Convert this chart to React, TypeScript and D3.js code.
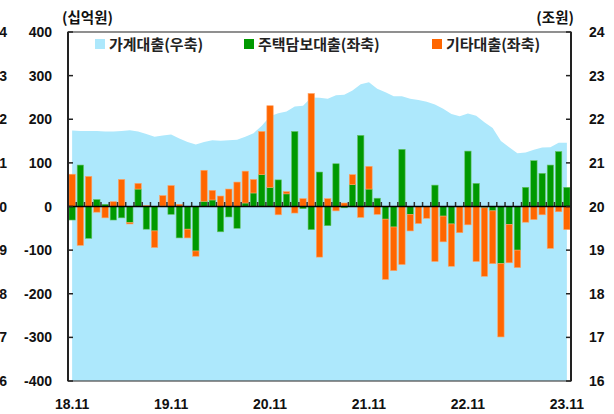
import React, { useEffect, useRef } from 'react'
import * as d3 from 'd3'

// 2018.11 ~ 2023.11 월별
const tickLabels = ['18.11', '19.11', '20.11', '21.11', '22.11', '23.11']
const monthCount = 61

// 주택담보대출 (십억원, 좌축)
const housing = [
  -31, 95, -73, 16, 5, -31, -26, -37, 40, -52, -56, 1, -18, -72, -52, -102, 12, 15, -58, -24, -50, 8, 31, 73,
  44, 61, 29, 172, -5, -53, 79, -44, 98, -3, 50, 163, 40, 19, -29, -47, 131, -18, 0, 0, 49, -22, -40, 0, 127,
  53, -3, -10, -131, -41, -100, 44, 105, 76, 95, 126, 44,
]

// 기타대출 (십억원, 좌축)
const other = [
  74, -89, 69, -13, -26, 11, 62, -3, 13, 2, -38, 24, 48, 5, -20, -12, 71, 22, 24, 40, 56, 73, 31, 99, 187,
  -19, 5, -15, 18, 259, -116, 18, -10, 8, 23, -25, 52, -18, -138, -100, -133, -38, -39, -27, -126, -59, -97,
  -60, -42, -126, -157, -121, -168, -88, -40, -36, -30, -19, -96, -12, -53,
]

// 가계대출 잔액 (조원, 우축)
const household = [
  21.74, 21.73, 21.73, 21.73, 21.72, 21.72, 21.73, 21.75, 21.72, 21.66, 21.6, 21.63, 21.65, 21.56, 21.48,
  21.42, 21.48, 21.52, 21.51, 21.52, 21.53, 21.6, 21.68, 21.85, 22.07, 22.14, 22.18, 22.29, 22.31, 22.5,
  22.49, 22.47, 22.55, 22.56, 22.66, 22.8, 22.85, 22.7, 22.62, 22.53, 22.53, 22.47, 22.44, 22.4, 22.34,
  22.24, 22.12, 22.07, 22.13, 22.08, 21.93, 21.8, 21.5, 21.36, 21.22, 21.24, 21.3, 21.35, 21.36, 21.46, 21.46,
]

const leftTicks = [-400, -300, -200, -100, 0, 100, 200, 300, 400]
const rightTicks = [16, 17, 18, 19, 20, 21, 22, 23, 24]

const legendItems = [
  { label: '가계대출(우축)', color: '#ade8fc' },
  { label: '주택담보대출(좌축)', color: '#009900' },
  { label: '기타대출(좌축)', color: '#ff6600' },
]

const App = () => {
  const svgRef = useRef<SVGSVGElement>(null)
  const width = 614
  const height = 414
  const plot = { left: 68, right: 571, top: 32, bottom: 381 }

  useEffect(() => {
    const svg = d3.select(svgRef.current)
    svg.selectAll('*').remove()

    const idx = d3.range(monthCount)
    const x = d3
      .scaleBand<number>()
      .domain(idx)
      .range([plot.left, plot.right])
      .paddingInner(0.23)
      .paddingOuter(0.115)
    const cx = (i: number) => (x(i) as number) + x.bandwidth() / 2
    const y = d3.scaleLinear().domain([-400, 400]).range([plot.bottom, plot.top])
    const yR = d3.scaleLinear().domain([16, 24]).range([plot.bottom, plot.top])

    const numFont = "'Liberation Sans', Arial, sans-serif"
    const krFont = "'Noto Sans CJK KR', sans-serif"

    // 가계대출 area
    const area = d3
      .area<number>()
      .x((d, i) => cx(i))
      .y0(yR(16))
      .y1((d) => yR(d))
    svg.append('path').datum(household).attr('d', area).attr('fill', '#ade8fc')

    // stacked bars
    const rows = idx.map((i) => ({ housing: housing[i], other: other[i] }))
    const series = d3
      .stack<any>()
      .keys(['housing', 'other'])
      .offset(d3.stackOffsetDiverging)(rows)
    const colors: Record<string, string> = { housing: '#009900', other: '#ff6600' }
    const strokes: Record<string, string> = { housing: '#66c266', other: '#ffa366' }

    series.forEach((s) => {
      svg
        .append('g')
        .selectAll('rect')
        .data(s.map((d, i) => ({ d, i })))
        .join('rect')
        .attr('x', (p) => x(p.i) as number)
        .attr('width', x.bandwidth())
        .attr('y', (p) => y(Math.max(p.d[0], p.d[1])))
        .attr('height', (p) => Math.abs(y(p.d[0]) - y(p.d[1])))
        .attr('fill', colors[s.key])
        .attr('stroke', strokes[s.key])
        .attr('stroke-width', 0.6)
    })

    // zero line with month ticks
    const y0 = y(0)
    svg
      .append('g')
      .selectAll('line')
      .data(d3.range(monthCount + 1))
      .join('line')
      .attr('x1', (i) => plot.left + i * x.step())
      .attr('x2', (i) => plot.left + i * x.step())
      .attr('y1', y0 - 4.5)
      .attr('y2', y0)
      .attr('stroke', '#333')
      .attr('stroke-width', 1.5)
    svg
      .append('line')
      .attr('x1', plot.left)
      .attr('x2', plot.right)
      .attr('y1', y0)
      .attr('y2', y0)
      .attr('stroke', '#000')
      .attr('stroke-width', 1.6)

    // frame
    svg
      .append('rect')
      .attr('x', plot.left)
      .attr('y', plot.top)
      .attr('width', plot.right - plot.left)
      .attr('height', plot.bottom - plot.top)
      .attr('fill', 'none')
      .attr('stroke', '#555')
      .attr('stroke-width', 1.3)

    // left axis
    const left = svg.append('g')
    left
      .append('line')
      .attr('x1', plot.left)
      .attr('x2', plot.left)
      .attr('y1', plot.top)
      .attr('y2', plot.bottom)
      .attr('stroke', '#222')
      .attr('stroke-width', 2)
    left
      .selectAll('line.tick')
      .data(leftTicks)
      .join('line')
      .attr('class', 'tick')
      .attr('x1', plot.left)
      .attr('x2', plot.left + 5)
      .attr('y1', (d) => y(d))
      .attr('y2', (d) => y(d))
      .attr('stroke', '#222')
      .attr('stroke-width', 1.5)
    left
      .selectAll('text')
      .data(leftTicks)
      .join('text')
      .attr('x', 52)
      .attr('y', (d) => y(d) + 5)
      .attr('text-anchor', 'end')
      .style('font-family', numFont)
      .style('font-size', '14px')
      .style('font-weight', 'bold')
      .attr('fill', '#111')
      .text((d) => d)

    // right axis
    const right = svg.append('g')
    right
      .append('line')
      .attr('x1', plot.right)
      .attr('x2', plot.right)
      .attr('y1', plot.top)
      .attr('y2', plot.bottom)
      .attr('stroke', '#222')
      .attr('stroke-width', 2)
    right
      .selectAll('line.tick')
      .data(rightTicks)
      .join('line')
      .attr('class', 'tick')
      .attr('x1', plot.right - 5)
      .attr('x2', plot.right)
      .attr('y1', (d) => yR(d))
      .attr('y2', (d) => yR(d))
      .attr('stroke', '#222')
      .attr('stroke-width', 1.5)
    right
      .selectAll('text')
      .data(rightTicks)
      .join('text')
      .attr('x', 589)
      .attr('y', (d) => yR(d) + 5)
      .style('font-family', numFont)
      .style('font-size', '14px')
      .style('font-weight', 'bold')
      .attr('fill', '#111')
      .text((d) => d)

    // cut-off labels of the neighbouring chart on the left edge (as in the reference)
    svg
      .append('g')
      .selectAll('text')
      .data(rightTicks)
      .join('text')
      .attr('x', 7)
      .attr('y', (d) => yR(d) + 5)
      .attr('text-anchor', 'end')
      .style('font-family', numFont)
      .style('font-size', '14px')
      .style('font-weight', 'bold')
      .attr('fill', '#111')
      .text((d) => d)

    // x labels
    svg
      .append('g')
      .selectAll('text')
      .data(tickLabels)
      .join('text')
      .attr('x', (d, i) => cx(i * 12))
      .attr('y', 409)
      .attr('text-anchor', 'middle')
      .style('font-family', numFont)
      .style('font-size', '14px')
      .style('font-weight', 'bold')
      .attr('fill', '#111')
      .text((d) => d)

    // units
    svg
      .append('text')
      .attr('x', 62)
      .attr('y', 23)
      .style('font-family', krFont)
      .style('font-size', '14.5px')
      .style('font-weight', 'bold')
      .attr('fill', '#111')
      .text('(십억원)')
    svg
      .append('text')
      .attr('x', 574)
      .attr('y', 23)
      .attr('text-anchor', 'end')
      .style('font-family', krFont)
      .style('font-size', '14.5px')
      .style('font-weight', 'bold')
      .attr('fill', '#111')
      .text('(조원)')

    // legend
    const legendX = [95, 244, 432]
    const legend = svg
      .append('g')
      .selectAll('g')
      .data(legendItems)
      .join('g')
      .attr('transform', (d, i) => `translate(${legendX[i]}, 39)`)
    legend.append('rect').attr('width', 10).attr('height', 10).attr('fill', (d) => d.color)
    legend
      .append('text')
      .attr('x', 14)
      .attr('y', 11)
      .style('font-family', krFont)
      .style('font-size', '15px')
      .style('font-weight', 'bold')
      .attr('fill', '#222')
      .text((d) => d.label)
  }, [])

  return (
    <svg
      ref={svgRef}
      width={width}
      height={height}
      style={{ position: 'absolute', left: 0, top: 0, background: '#fff' }}
    ></svg>
  )
}

export default App
